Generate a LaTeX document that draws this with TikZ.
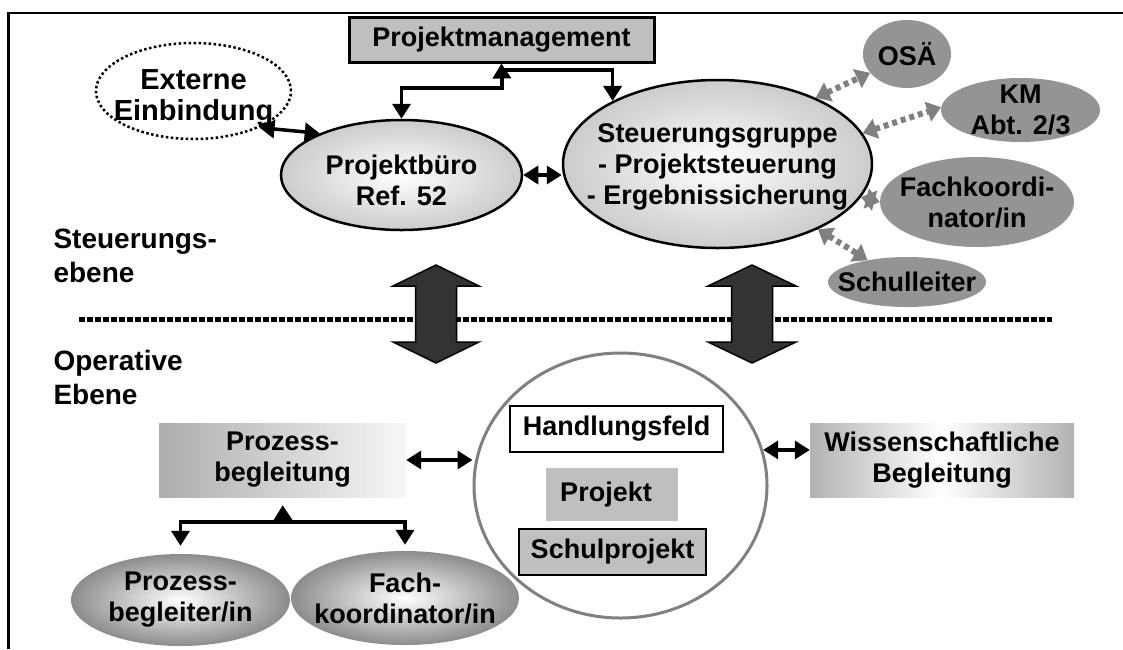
\documentclass[tikz,border=0pt]{standalone}
\usepackage{fontspec}
\setmainfont{Liberation Sans}
\usetikzlibrary{arrows.meta, calc, positioning, shapes.geometric}

\tikzset{
  txt/.style={font=\bfseries\fontsize{27}{31}\selectfont, align=center},
  oval/.style={ellipse, draw=black, line width=2.5pt, inner color=white, outer color=black!20},
  satellite/.style={ellipse, fill=black!42},
  basis/.style={ellipse, inner color=white, outer color=black!45},
  dbl/.style={line width=3.5pt, {Triangle[length=15pt,width=18pt]}-{Triangle[length=15pt,width=18pt]}},
  one/.style={line width=3.5pt, -{Triangle[length=15pt,width=18pt]}},
  link/.style={draw=black!50, line width=6pt, dash pattern=on 5pt off 4pt, {Triangle[length=14pt,width=20pt]}-{Triangle[length=14pt,width=20pt]}},
  bigarrow/.style={fill=black!80, draw=black, line width=1.5pt},
}

\begin{document}
\begin{tikzpicture}[x=1pt, y=-1pt]
\useasboundingbox (0,0) rectangle (1123,649);
% frame
\draw[line width=2.5pt] (8.5,649) -- (8.5,13) -- (1123,13);

% Steuerungsebene
\node[draw, line width=3pt, fill=black!25, minimum width=305pt, minimum height=45pt, txt] (pm) at (501.5,39.5) {Projektmanagement};
\node[ellipse, draw, line width=2.5pt, dash pattern=on 2.5pt off 2.5pt, minimum width=195pt, minimum height=96pt,
      label={[txt, font=\bfseries\fontsize{29}{31}\selectfont, yshift=-7pt]center:{Externe\\Einbindung}}] (ext) at (193.5,91) {};
\node[oval, minimum width=241pt, minimum height=110pt, label={[txt, yshift=-5pt]center:{Projektbüro\\Ref. 52}}] (pb) at (401.5,175) {};
\node[oval, minimum width=309pt, minimum height=168pt,
      label={[txt, yshift=-3pt]center:{Steuerungsgruppe\\- Projektsteuerung\\- Ergebnissicherung}}] (sg) at (717.5,164) {};
\node[satellite, minimum width=88pt, minimum height=68pt, label={[txt]center:OSÄ}] (osa) at (907,54) {};
\node[satellite, minimum width=159pt, minimum height=64pt, label={[txt]center:{KM\\Abt. 2/3}}] (km) at (1020.5,110) {};
\node[satellite, minimum width=194pt, minimum height=90pt, label={[txt]center:{Fachkoordi-\\nator/in}}] (fks) at (977,202) {};
\node[satellite, minimum width=158pt, minimum height=50pt, label={[txt]center:Schulleiter}] (sl) at (907,282) {};

\node[txt, align=left, anchor=west, font=\bfseries\fontsize{28}{34}\selectfont] (ebene1) at (50,256) {Steuerungs-\\ebene};
\node[txt, align=left, anchor=west, font=\bfseries\fontsize{28}{34}\selectfont] (ebene2) at (50,377) {Operative\\Ebene};

\coordinate (pmhub) at (502,88);
\coordinate (pmbend) at (502,70);
\draw[dbl] (pb.north) |- (pmhub) -- (pmbend) -| (sg.149);
\draw[one] (pmhub) -- (pm.south);
\draw[dbl] (ext.-29) -- (pb.153);
\draw[dbl] (pb.east) -- (pb.east -| sg.west);

\draw[link] (sg.34) -- (osa.207);
\draw[link] (sg.12) -- (km.178);
\draw[link] (sg.-13) -- (fks.180);
\draw[link] (sg.-33) -- (sl.151);

% Trennlinie und Pfeile zwischen den Ebenen
\draw[line width=5pt, dash pattern=on 5.5pt off 2.5pt] (79,319) -- (1052,319);
\foreach \cx/\hw in {436/43, 752/44} {
  \draw[bigarrow] (\cx,265) -- (\cx+\hw,286) -- (\cx+20.5,286) -- (\cx+20.5,342) -- (\cx+\hw,342)
    -- (\cx,363) -- (\cx-\hw,342) -- (\cx-20.5,342) -- (\cx-20.5,286) -- (\cx-\hw,286) -- cycle;
}

% Operative Ebene
\node[ellipse, draw=black!50, line width=3pt, fill=white, minimum width=293pt, minimum height=265pt] (circ) at (620.5,485.5) {};
\node[draw, line width=2.5pt, fill=white, minimum width=213pt, minimum height=46pt, txt] (hf) at (616.5,429) {Handlungsfeld};
\node[fill=black!25, minimum width=132pt, minimum height=53pt, txt] (pj) at (612,494.5) {Projekt\hspace{12pt}};
\node[draw, line width=2.5pt, fill=black!25, minimum width=187pt, minimum height=46pt, txt] (sp) at (612.5,552) {Schulprojekt};
\node[left color=black!32, right color=black!3, minimum width=247pt, minimum height=74pt, txt] (pbg) at (282.5,460) {Prozess-\\begleitung};
\node[left color=black!30, right color=black!30, middle color=white, minimum width=264pt, minimum height=74pt, txt] (wb) at (942,460) {Wissenschaftliche\\Begleitung};
\node[basis, minimum width=219pt, minimum height=92pt, label={[txt]center:{Prozess-\\begleiter/in}}] (pbl) at (180.5,600) {};
\node[basis, minimum width=228pt, minimum height=94pt, label={[txt]center:{Fach-\\koordinator/in}}] (fkl) at (405,598) {};

\coordinate (pghub) at (283,522);
\draw[dbl, shorten <=8pt, shorten >=6pt] (pbl.north) |- (pghub) -| (fkl.north);
\draw[one, shorten >=8pt] (pghub) -- (pbg.south);
\draw[dbl] (pbg.east) -- (pbg.east -| circ.west);
\draw[dbl] (circ.14) -- (circ.14 -| wb.west);
\end{tikzpicture}
\end{document}
